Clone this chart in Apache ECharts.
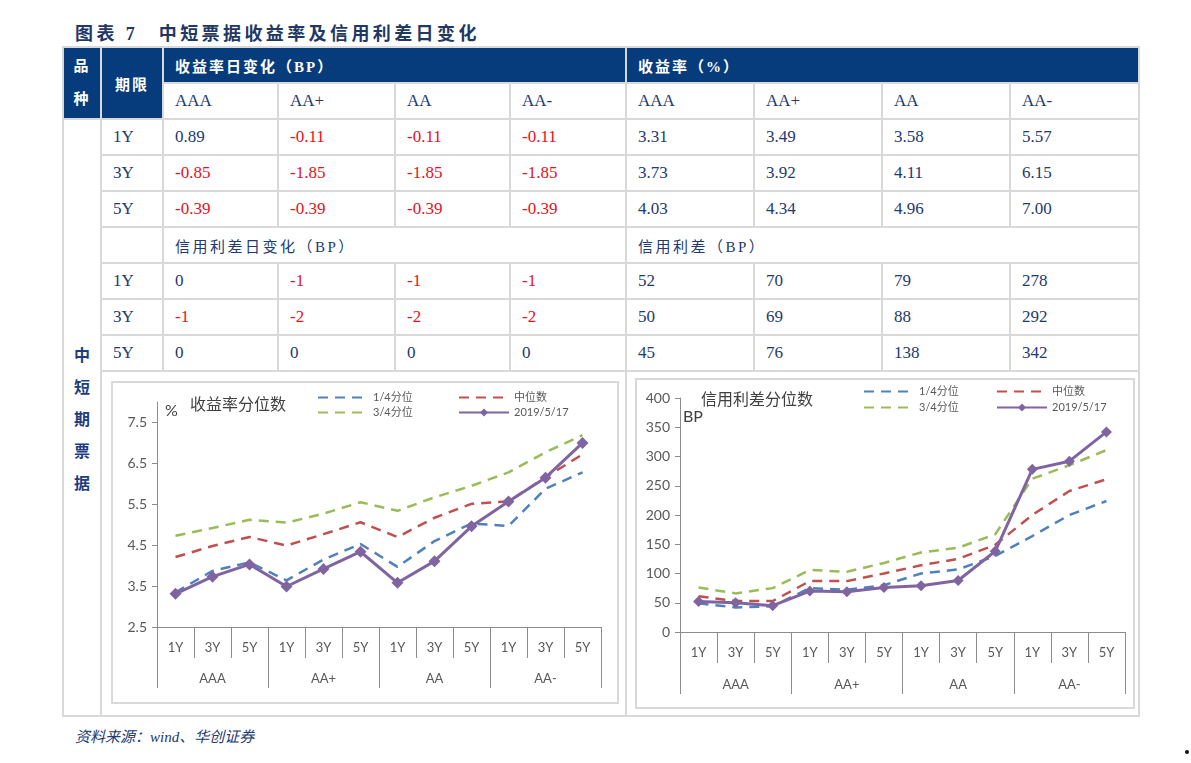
<!DOCTYPE html>
<html>
<head>
<meta charset="utf-8">
<title>中短票据收益率及信用利差日变化</title>
<script src="https://cdn.jsdelivr.net/npm/echarts@6/dist/echarts.min.js"></script>
<style>
  html, body { margin: 0; padding: 0; background: #fff; }
  body { width: 1191px; height: 763px; position: relative; overflow: hidden; }
  #title { position: absolute; left: 75px; top: 19px; line-height: 24px; white-space: nowrap;
    font: bold 18px 'Liberation Serif', 'Noto Sans CJK SC', serif; color: #1f3864; letter-spacing: 3.4px; }
  #title .no { margin: 0 24px 0 8px; letter-spacing: 0; }
  #tbl-bg { position: absolute; left: 62px; top: 46px; width: 1078px; height: 671px; background: #d9d9d9; }
  .c { position: absolute; box-sizing: border-box; display: flex; align-items: center; padding-left: 11px;
    background: #fff; white-space: nowrap; color: #223a70;
    font: 17px 'Liberation Serif', 'Noto Sans CJK SC', serif; }
  .h { background: #063b7c; color: #fff; font-weight: bold; font-size: 15px; letter-spacing: 2px; }
  .ctr { justify-content: center; text-align: center; padding-left: 0; }
  .vt { font: bold 16px 'Noto Sans CJK SC', sans-serif; line-height: 32px; color: #1f3c80; }
  .hv { line-height: 33px; }
  .sub { font-size: 15px; letter-spacing: 2.5px; }
  .neg { color: #e8101a; }
  .chart { position: absolute; background: #fff; box-shadow: 0 0 0 2px #d9d9d9; }
  #src { position: absolute; left: 75px; top: 725px; line-height: 22px; white-space: nowrap;
    font: italic 15px 'Liberation Serif', 'Noto Sans CJK SC', serif; color: #223a70; }
  #dot { position: absolute; left: 1185px; top: 750px; width: 4px; height: 4px; background: #111; border-radius: 2px; }
</style>
</head>
<body>
<div id="title">图表<span class="no">7</span>中短票据收益率及信用利差日变化</div>
<div id="tbl-bg"></div>
<div id="src">资料来源：wind、华创证券</div>
<div id="dot"></div>
<script>
// 表格数据
const grades = ['AAA', 'AA+', 'AA', 'AA-'];
const tenors = ['1Y', '3Y', '5Y'];
// 收益率日变化(BP)  [期限][评级]
const yieldChg = [
  [0.89, -0.11, -0.11, -0.11],
  [-0.85, -1.85, -1.85, -1.85],
  [-0.39, -0.39, -0.39, -0.39]
];
// 收益率(%)
const yieldLvl = [
  [3.31, 3.49, 3.58, 5.57],
  [3.73, 3.92, 4.11, 6.15],
  [4.03, 4.34, 4.96, 7.00]
];
// 信用利差日变化(BP)
const spreadChg = [
  [0, -1, -1, -1],
  [-1, -2, -2, -2],
  [0, 0, 0, 0]
];
// 信用利差(BP)
const spreadLvl = [
  [52, 70, 79, 278],
  [50, 69, 88, 292],
  [45, 76, 138, 342]
];

// 分位数(按 AAA 1Y,3Y,5Y, AA+ ... 顺序)
const yieldQ1 = [3.35, 3.87, 4.08, 3.64, 4.15, 4.53, 3.97, 4.60, 5.03, 4.97, 5.88, 6.28];
const yieldMed = [4.21, 4.48, 4.70, 4.49, 4.77, 5.06, 4.70, 5.17, 5.51, 5.57, 6.16, 6.72];
const yieldQ3 = [4.73, 4.92, 5.12, 5.05, 5.27, 5.55, 5.34, 5.67, 5.95, 6.28, 6.77, 7.19];
const spreadQ1 = [49, 42, 44, 75, 72, 80, 100, 107, 130, 164, 200, 224];
const spreadMed = [61, 53, 53, 87, 87, 100, 114, 125, 149, 200, 241, 261];
const spreadQ3 = [76, 66, 75, 106, 103, 118, 136, 144, 167, 262, 285, 311];

const legendNames = ['1/4分位', '中位数', '3/4分位', '2019/5/17'];
const colors = ['#4f81bd', '#c0504d', '#9bbb59', '#8064a2'];
const FONT = "Lato, 'Noto Sans CJK SC', sans-serif";
const AX = '#8c8c8c';

// ---------- 表格 ----------
const xs = [63, 101, 163, 278, 395, 510, 626, 754, 882, 1010, 1139];
const ys = [47, 83, 119, 155, 191, 227, 263, 299, 335, 371, 716];

function cell(c0, c1, r0, r1, html, cls) {
  const d = document.createElement('div');
  d.className = 'c ' + (cls || '');
  d.style.left = (xs[c0] + 1) + 'px';
  d.style.top = (ys[r0] + 1) + 'px';
  d.style.width = (xs[c1] - xs[c0] - 2) + 'px';
  d.style.height = (ys[r1] - ys[r0] - 2) + 'px';
  d.innerHTML = html;
  document.body.appendChild(d);
}

cell(0, 1, 0, 2, '品<br>种', 'h ctr hv');
cell(1, 2, 0, 2, '期限', 'h ctr');
cell(2, 6, 0, 1, '收益率日变化（BP）', 'h');
cell(6, 10, 0, 1, '收益率（%）', 'h');
grades.forEach((g, i) => {
  cell(2 + i, 3 + i, 1, 2, g);
  cell(6 + i, 7 + i, 1, 2, g);
});
cell(0, 1, 2, 10, '中<br>短<br>期<br>票<br>据', 'ctr vt');

function block(r0, chg, lvl, fmt) {
  tenors.forEach((t, ti) => {
    const r = r0 + ti;
    cell(1, 2, r, r + 1, t);
    grades.forEach((g, gi) => {
      const v = chg[ti][gi];
      cell(2 + gi, 3 + gi, r, r + 1, fmt(v), v < 0 ? 'neg' : '');
      cell(6 + gi, 7 + gi, r, r + 1, fmt(lvl[ti][gi]));
    });
  });
}
block(2, yieldChg, yieldLvl, v => v.toFixed(2));
cell(1, 2, 5, 6, '');
cell(2, 6, 5, 6, '信用利差日变化（BP）', 'sub');
cell(6, 10, 5, 6, '信用利差（BP）', 'sub');
block(6, spreadChg, spreadLvl, v => String(v));
cell(1, 6, 9, 10, '');
cell(6, 10, 9, 10, '');

// ---------- 图表 ----------
const xCats = [];
grades.forEach(() => tenors.forEach(t => xCats.push(t)));
const flat = m => { const out = []; grades.forEach((g, gi) => tenors.forEach((t, ti) => out.push(m[ti][gi]))); return out; };

function makeChart(box, cfg) {
  const el = document.createElement('div');
  el.className = 'chart';
  el.style.left = box[0] + 'px';
  el.style.top = box[1] + 'px';
  el.style.width = box[2] + 'px';
  el.style.height = box[3] + 'px';
  document.body.appendChild(el);
  const chart = echarts.init(el);

  const seriesData = [cfg.q1, cfg.med, cfg.q3, cfg.cur];
  const series = legendNames.map((n, i) => {
    const s = {
      name: n,
      type: 'line',
      data: seriesData[i],
      xAxisIndex: 0,
      z: 2 + i,
      itemStyle: { color: colors[i] },
      lineStyle: { color: colors[i], width: 2.5, type: [10, 7] },
      symbol: 'none'
    };
    if (i === 3) {
      s.symbol = 'diamond';
      s.symbolSize = cfg.markSize;
      s.lineStyle = { color: colors[i], width: 3 };
    }
    return s;
  });

  // 虚线图例只要线段, 不要圆点
  const legend = legendNames.map((n, i) => ({
    data: [n],
    left: cfg.legendPos[i][0],
    top: cfg.legendPos[i][1],
    padding: 0,
    itemWidth: 50,
    itemHeight: 10,
    selectedMode: false,
    itemStyle: i === 3 ? {} : { opacity: 0, color: 'rgba(0,0,0,0)', borderWidth: 0 },
    textStyle: { fontSize: 11, color: '#595959', fontFamily: FONT }
  }));

  chart.setOption({
    animation: false,
    textStyle: { fontFamily: FONT },
    title: {
      text: cfg.title,
      left: cfg.titlePos[0],
      top: cfg.titlePos[1],
      padding: 0,
      textStyle: { fontSize: 16, fontWeight: 'normal', color: '#404040', fontFamily: FONT }
    },
    graphic: [{
      type: 'text',
      left: cfg.unitPos[0],
      top: cfg.unitPos[1],
      style: { text: cfg.unit, fontSize: 16, fill: '#404040', fontFamily: FONT }
    }],
    legend: legend,
    grid: cfg.grid,
    xAxis: [
      {
        type: 'category',
        data: xCats,
        axisLine: { show: true, lineStyle: { color: AX } },
        axisTick: { show: true, length: 31, interval: 0, lineStyle: { color: AX } },
        axisLabel: { interval: 0, margin: 14, fontSize: 13, color: '#595959' }
      },
      {
        type: 'category',
        position: 'bottom',
        data: grades,
        axisLine: { show: false },
        axisTick: { show: true, length: cfg.groupTick, interval: 0, lineStyle: { color: AX } },
        axisLabel: { interval: 0, margin: cfg.groupMargin, fontSize: 13, color: '#595959' }
      }
    ],
    yAxis: {
      type: 'value',
      min: cfg.yMin,
      max: cfg.yMax,
      interval: cfg.yStep,
      axisLine: { show: true, lineStyle: { color: AX } },
      axisTick: { show: true, length: 5, lineStyle: { color: AX } },
      splitLine: { show: false },
      axisLabel: { showMaxLabel: cfg.showMax, margin: 10, fontSize: 14, color: '#595959' }
    },
    series: series
  });
}

makeChart([113, 383, 504, 319], {
  title: '收益率分位数', titlePos: [77, 14],
  unit: '%', unitPos: [52, 20],
  legendPos: [[204, 9], [345, 9], [204, 24], [345, 24]],
  grid: { left: 44, right: 16, top: 19, bottom: 75 },
  yMin: 2.5, yMax: 8, yStep: 1, showMax: false,
  groupTick: 61, groupMargin: 45,
  q1: yieldQ1, med: yieldMed, q3: yieldQ3, cur: flat(yieldLvl),
  markSize: 12
});

makeChart([637, 380, 496, 327], {
  title: '信用利差分位数', titlePos: [64, 12],
  unit: 'BP', unitPos: [46, 29],
  legendPos: [[226, 6], [359, 6], [226, 22], [359, 22]],
  grid: { left: 43, right: 8, top: 18, bottom: 75 },
  yMin: 0, yMax: 400, yStep: 50, showMax: true,
  groupTick: 62, groupMargin: 46,
  q1: spreadQ1, med: spreadMed, q3: spreadQ3, cur: flat(spreadLvl),
  markSize: 11
});
</script>
</body>
</html>
